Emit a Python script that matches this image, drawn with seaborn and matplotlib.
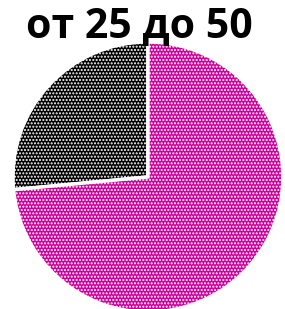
import matplotlib
matplotlib.use("Agg")
import matplotlib.pyplot as plt
import seaborn as sns

# данные
labels = ["black", "magenta"]
shares = [26.5, 73.5]
colors = ["#000000", "#CC0099"]
title = "от 25 до 50"

sns.set_style("white")
plt.rcParams["font.family"] = ["Open Sans", "DejaVu Sans"]

fig = plt.figure(figsize=(2.85, 3.09), dpi=100)
ax = fig.add_axes([0.0456, -0.0097, 0.947, 0.874])

wedges, _ = ax.pie(shares, colors=colors, startangle=90, counterclock=True,
                   radius=1, wedgeprops=dict(edgecolor="white", linewidth=2.5))
for w in wedges:
    w.set_hatch(".....")

ax.set_xlim(-1, 1)
ax.set_ylim(-1, 1)
ax.set_aspect("auto")
ax.axis("off")

fig.text(0.49, 0.91, title, ha="center", va="center",
         fontsize=29.5, fontweight="bold", color="black")

fig.savefig("out.png", dpi=100)
